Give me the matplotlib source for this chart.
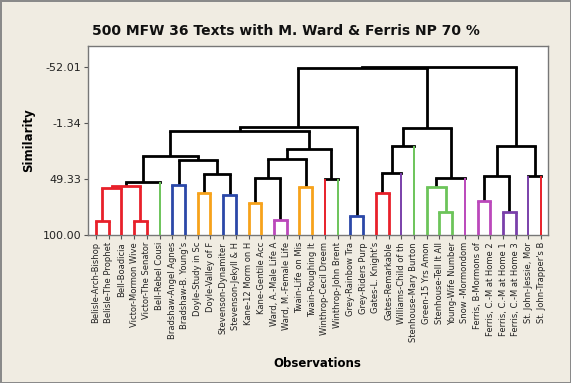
import matplotlib
matplotlib.use("Agg")
import matplotlib.pyplot as plt

# leaf labels, left to right
labels = [
    "Belisle-Arch-Bishop", "Belisle-The Prophet", "Bell-Boadicia",
    "Victor-Mormon Wive", "Victor-The Senator", "Bell-Rebel Cousi",
    "Bradshaw-Angel Agnes", "Bradshaw-B. Young's", "Doyle-Study in Sc",
    "Doyle-Valley of F", "Stevenson-Dynamiter", "Stevenson-Jekyll & H",
    "Kane-12 Morm on H", "Kane-Gentile Acc", "Ward, A.-Male Life A",
    "Ward, M.-Female Life", "Twain-Life on Mis", "Twain-Roughing It",
    "Winthrop-Cecil Dreem", "Winthrop-John Brent", "Grey-Rainbow Tra",
    "Grey-Riders Purp", "Gates-L. Knight's", "Gates-Remarkable",
    "Williams-Child of th", "Stenhouse-Mary Burton", "Green-15 Yrs Amon",
    "Stenhouse-Tell It All", "Young-Wife Number", "Snow -Mormondom",
    "Ferris, B-Mormons of", "Ferris, C.-M at Home 2", "Ferris, C.-M at Home 1",
    "Ferris, C.-M at Home 3", "St. John-Jessie, Mor", "St. John-Trapper's B",
]

RED, GREEN, BLUE, ORANGE = "#e8202a", "#6cc45a", "#2b48a8", "#f7a21b"
MAGENTA, PURPLE = "#bb48bb", "#7a40aa"

leaf_colors = [
    RED, RED, RED, RED, RED, GREEN,
    BLUE, BLUE, ORANGE, ORANGE, BLUE, BLUE,
    ORANGE, ORANGE, MAGENTA, MAGENTA, ORANGE, ORANGE,
    RED, GREEN, BLUE, BLUE, RED, RED,
    PURPLE, GREEN, GREEN, GREEN, GREEN, MAGENTA,
    MAGENTA, MAGENTA, PURPLE, PURPLE, PURPLE, RED,
]

# merges: (left child, right child); ids 0-35 are leaves, 36+ are earlier merges
merge_pairs = [
    (0, 1), (3, 4), (36, 2), (38, 37), (39, 5),            # 36-40
    (6, 7), (8, 9), (10, 11), (42, 43), (41, 44),          # 41-45
    (40, 45), (12, 13), (14, 15), (47, 48), (16, 17),      # 46-50
    (49, 50), (18, 19), (51, 52), (46, 53), (20, 21),      # 51-55
    (54, 55), (22, 23), (57, 24), (58, 25), (27, 28),      # 56-60
    (26, 60), (61, 29), (59, 62), (56, 63), (30, 31),      # 61-65
    (32, 33), (65, 66), (34, 35), (67, 68), (64, 69),      # 66-70
]
merge_heights = [
    87.0, 87.3, 57.4, 55.3, 52.2,
    54.7, 62.2, 64.0, 44.9, 31.7,
    28.3, 70.7, 86.7, 48.3, 56.5,
    30.8, 48.9, 22.3, 5.7, 82.8,
    2.3, 62.2, 44.1, 19.0, 78.9,
    56.5, 48.3, 2.7, -51.2, 69.5,
    78.9, 46.2, 46.5, 19.3, -52.6,
]
y_ticks = [-52.01, -1.34, 49.33, 100.00]

n = len(labels)
xpos = {i: i + 1 for i in range(n)}
ypos = {i: 100.0 for i in range(n)}
color = {i: leaf_colors[i] for i in range(n)}

fig = plt.figure(figsize=(5.71, 3.83), dpi=100, facecolor="#f0ece2",
                 edgecolor="#8a8a8a", linewidth=2)
ax = fig.add_axes([0.154, 0.386, 0.806, 0.494])
ax.set_facecolor("white")

for k, ((a, b), h) in enumerate(zip(merge_pairs, merge_heights)):
    node = n + k
    xpos[node] = (xpos[a] + xpos[b]) / 2
    ypos[node] = h
    same = color[a] is not None and color[a] == color[b]
    color[node] = color[a] if same else None
    link_c = color[node] if same else "black"
    for child in (a, b):
        if same:
            c = link_c
        elif child < n:
            c = leaf_colors[child]
        else:
            c = "black"
        lw = 1.4 if (child < n and not same) else 2.0
        ax.plot([xpos[child], xpos[child]], [ypos[child], h], color=c,
                lw=lw, solid_capstyle="butt", zorder=3 if c != "black" else 2)
    ax.plot([xpos[a], xpos[b]], [h, h], color=link_c, lw=2.0,
            solid_capstyle="projecting", zorder=3 if same else 2)

ax.set_xlim(0.37, 36.55)
ax.set_ylim(100, -71.4)
ax.set_yticks(y_ticks)
ax.set_yticklabels([f"{v:.2f}" for v in y_ticks], fontsize=8, color="#222222")
ax.set_xticks(range(1, n + 1))
ax.set_xticklabels(labels, rotation=90, fontsize=6, color="#222222")
ax.tick_params(axis="both", direction="out", length=3, width=0.8,
               color="#555555", pad=2)
for s in ax.spines.values():
    s.set_color("#777777")
    s.set_linewidth(1.0)

ax.set_ylabel("Similarity", fontsize=8.5, fontweight="bold", labelpad=5)
fig.text(0.555, 0.05, "Observations", fontsize=8.5, fontweight="bold",
         ha="center", va="center")
fig.text(0.5, 0.92, "500 MFW 36 Texts with M. Ward & Ferris NP 70 %",
         fontsize=10, fontweight="bold", ha="center", va="center",
         color="#111111")

fig.savefig("out.png", dpi=100, facecolor=fig.get_facecolor(),
            edgecolor=fig.get_edgecolor())
